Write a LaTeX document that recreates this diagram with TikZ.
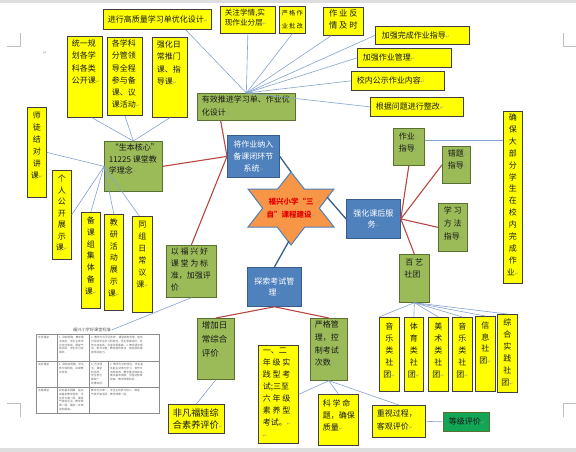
\documentclass[tikz,border=0pt]{standalone}
\usepackage{fontspec}
\setmainfont{Noto Sans CJK SC}
\newfontfamily\dejavu{DejaVu Sans}
\usetikzlibrary{calc}
\definecolor{ybox}{HTML}{FFFF00}
\definecolor{yline}{HTML}{3F3F3F}
\definecolor{gfill}{HTML}{9BBB59}
\definecolor{gline}{HTML}{5A7032}
\definecolor{bfill}{HTML}{4F81BD}
\definecolor{bline}{HTML}{385D8A}
\definecolor{ofill}{HTML}{F79646}
\definecolor{lblue}{HTML}{86A3CD}
\definecolor{redl}{HTML}{B84744}
\definecolor{dblue}{HTML}{3A5F8F}
\definecolor{dgreen}{HTML}{12A555}
\newcommand\crr{{\dejavu\fontsize{4.5}{4.5}\selectfont\color{black!40}↵}}
\newcommand\ftA{\fontsize{8}{12.5}\selectfont}
\newcommand\ftV{\fontsize{8}{12}\selectfont}
\newcommand\lsk{\leftskip=2pt\relax}
\newcommand\tb[8]{%
  \pgfmathsetmacro\tbw{#5-#3}%
  \pgfmathsetmacro\tbh{#6-#4}%
  \node[#2, anchor=north west, inner sep=0pt, minimum width=\tbw pt, minimum height=\tbh pt] (#1) at (#3,#4)
   {\begin{minipage}[c][\dimexpr\tbh pt-5pt\relax][#7]{\dimexpr\tbw pt-5pt\relax}#8\end{minipage}};%
}
\tikzset{
  yb/.style={draw=yline, fill=ybox, line width=0.7pt},
  gb/.style={draw=gline, fill=gfill, line width=0.7pt},
  bb/.style={draw=bline, fill=bfill, line width=0.8pt, text=white},
  dg/.style={draw=gline, fill=dgreen, line width=0.7pt},
  lk/.style={draw=lblue, line width=0.6pt},
  redc/.style={draw=redl, line width=1.1pt},
  blc/.style={draw=dblue, line width=1.3pt},
  tabtxt/.style={font=\fontsize{2.7}{3.8}\selectfont, text=black!60, anchor=north west, align=left, inner sep=1pt},
}
\begin{document}
\begin{tikzpicture}[x=1pt,y=-1pt, every node/.style={text=black!90}]
\useasboundingbox (0,0) rectangle (576,452);
\fill[white] (0,0) rectangle (576,452);
\fill[black!13] (0,0) rectangle (576,3);
\fill[black!13] (0,448) rectangle (576,452);
% corner marks
\draw[black!25, line width=0.5pt] (7,46) -- (20,46) -- (20,33);
\draw[black!25, line width=0.5pt] (576,46) -- (563,46) -- (563,33);
\draw[black!25, line width=0.5pt] (7,403) -- (20,403) -- (20,417);
\draw[black!25, line width=0.5pt] (576,403) -- (563,403) -- (563,417);
\node[inner sep=0pt] (pm1) at (45,53) {\crr};

% top boxes
\tb{t1}{yb}{103}{9}{211}{29}{c}{\ftA\lsk 进行高质量学习单优化设计\crr}
\tb{t2}{yb}{220}{6}{275}{33}{t}{\fontsize{7.6}{10.5}\selectfont\lsk 关注学情,实\\现作业分层\crr}
\tb{t3}{yb}{279}{6}{305}{33}{t}{\centering\fontsize{6.2}{12.5}\selectfont\vspace*{1.5pt}\mbox{严\hspace{1.2pt}格\hspace{1.2pt}作}\\\mbox{业\hspace{1.2pt}批\hspace{1.2pt}改}}
\tb{t4}{yb}{323}{7}{363}{35}{t}{\centering\fontsize{8.3}{12}\selectfont 作 业 反\\情 及 时}
\tb{t5}{yb}{375}{26}{469}{44}{c}{\ftA\leftskip=4pt 加强完成作业指导\crr}
\tb{t6}{yb}{357}{48}{451}{67}{c}{\ftA\leftskip=3pt 加强作业管理\crr}
\tb{t7}{yb}{351}{71}{444}{90}{c}{\ftA\leftskip=3pt 校内公示作业内容\crr}
\tb{t8}{yb}{370}{97}{463}{116}{c}{\ftA\leftskip=3pt 根据问题进行整改\crr}
\tb{g1}{gb}{197}{93}{295}{120}{t}{\fontsize{8}{13}\selectfont\lsk 有效推进学习单、作业优\\化设计\crr}

% left upper boxes
\tb{s1}{yb}{67}{36}{102}{117}{t}{\fontsize{8}{12.3}\selectfont\lsk\vspace*{1pt}统一规\\划各学\\科各类\\公开课\crr}
\tb{s2}{yb}{107}{37}{142}{115}{t}{\fontsize{8}{12.2}\selectfont\lsk 各学科\\分管领\\导全程\\参与备\\课、议\\课活动\crr}
\tb{s3}{yb}{152}{37}{187}{117}{t}{\fontsize{8}{12.3}\selectfont\lsk\vspace*{1pt}强化日\\常推门\\课、指\\导课\crr}
\tb{g2}{gb}{104}{141}{162}{191}{t}{\fontsize{8}{11.5}\selectfont\lsk\hspace*{2pt}“生本核心”\\11225 课堂教\\学理念\crr}

% left vertical boxes
\tb{v1}{yb}{27}{107}{46}{197}{t}{\centering\ftV\vspace*{2pt}师\\徒\\结\\对\\讲\\课\crr}
\tb{v2}{yb}{52}{170}{71}{259}{t}{\centering\fontsize{8}{11.5}\selectfont\vspace*{2pt}个\\人\\公\\开\\展\\示\\课\crr}
\tb{v3}{yb}{81}{212}{100}{308}{t}{\centering\fontsize{8}{11.8}\selectfont\vspace*{2pt}备\\课\\组\\集\\体\\备\\课\crr}
\tb{v4}{yb}{104}{214}{123}{310}{t}{\centering\fontsize{8}{11.8}\selectfont\vspace*{2pt}教\\研\\活\\动\\展\\示\\课\crr}
\tb{v5}{yb}{132}{216}{152}{312}{t}{\centering\ftV\vspace*{2pt}同\\组\\日\\常\\议\\课\crr}

\tb{g3}{gb}{166}{245}{216}{297}{t}{\fontsize{8}{12}\selectfont\lsk 以 福 兴 好\\课 堂 为 标\\准，加强评\\价\crr}

% blue boxes
\tb{b1}{bb}{227}{135}{279}{177}{t}{\centering\ftV\vspace*{2.5pt}将作业纳入\\备课闭环节\\系统\crr}
\tb{b2}{bb}{346}{199}{400}{238}{c}{\centering\fontsize{8}{11.5}\selectfont 强化课后服\\务\crr}
\tb{b3}{bb}{247}{267}{301}{306}{c}{\centering\fontsize{8}{11.5}\selectfont 探索考试管\\理\crr}

% star
\coordinate (stT) at (291,172);
\coordinate (stR) at (327,197);
\coordinate (stB) at (289,241);
\draw[fill=ofill, draw=bfill, line width=1pt] (291,172) -- (304.3,189) -- (334,189) -- (319.3,208.2) -- (334,227) -- (304.8,227) -- (291,245) -- (277.2,227) -- (248,227) -- (262.7,208.2) -- (248,189) -- (277.7,189) -- cycle;
\node[align=center, font=\fontsize{7.5}{13}\selectfont\bfseries, text=red!90!black, inner sep=0pt] (star) at (291,208.5) {福兴小学“三\\自”课程建设\crr};

% bottom boxes
\tb{g4}{gb}{197}{318}{234}{379}{t}{\fontsize{8.5}{14}\selectfont\lsk 增加日\\常综合\\评价\crr}
\tb{yd}{yb}{168}{404}{224}{433}{t}{\fontsize{9.2}{12}\selectfont\vspace*{1.5pt}\lsk 非凡福娃综\\合素养评价\crr}
\tb{g5}{gb}{310}{318}{347}{380}{t}{\fontsize{8}{12.7}\selectfont\lsk 严格管\\理，控\\制考试\\次数\crr}
\tb{ya}{yb}{258}{345}{298}{443}{t}{\fontsize{8}{12}\selectfont\lsk 一、二\\年 级 实\\践 型 考\\试;三至\\六 年 级\\素 养 型\\考试。\crr\\\crr}
\tb{yb}{yb}{318}{394}{358}{445}{t}{\fontsize{8}{12}\selectfont\vspace*{2.5pt}\lsk 科 学 命\\题，确保\\质量\crr}
\tb{yc}{yb}{372}{405}{425}{437}{t}{\fontsize{8}{13}\selectfont\vspace*{2pt}\lsk 重视过程，\\客观评价\crr}
\tb{dgb}{dg}{443}{412}{489}{431}{c}{\ftA\leftskip=3pt 等级评价\crr}

% right side
\tb{g6}{gb}{393}{128}{424}{165}{t}{\ftV\vspace*{2pt}\leftskip=3pt 作业\crr\\指导\crr}
\tb{g7}{gb}{442}{146}{470}{183}{t}{\ftV\vspace*{1pt}\leftskip=3pt 错题\crr\\指导\crr}
\tb{g8}{gb}{438}{203}{467}{251}{t}{\fontsize{8}{12.8}\selectfont\vspace*{1pt}\leftskip=3pt 学 习\\方 法\\指导\crr}
\tb{g9}{gb}{399}{254}{429}{302}{t}{\centering\ftV\vspace*{2pt}百 艺\\社团\crr}
\tb{tall}{yb}{503}{111}{522}{283}{t}{\centering\fontsize{8}{11.9}\selectfont 确\\保\\大\\部\\分\\学\\生\\在\\校\\内\\完\\成\\作\\业\crr}

\tb{c1}{yb}{379}{317}{399}{391}{t}{\centering\ftV\vspace*{3pt}音\\乐\\类\\社\\团\crr}
\tb{c2}{yb}{404}{317}{423}{391}{t}{\centering\ftV\vspace*{3pt}体\\育\\类\\社\\团\crr}
\tb{c3}{yb}{428}{317}{448}{391}{t}{\centering\ftV\vspace*{3pt}美\\术\\类\\社\\团\crr}
\tb{c4}{yb}{452}{317}{472}{391}{t}{\centering\ftV\vspace*{3pt}音\\乐\\类\\社\\团\crr}
\tb{c5}{yb}{475}{316}{495}{391}{t}{\centering\fontsize{8}{11.5}\selectfont\vspace*{3pt}信\\息\\社\\团\crr}
\tb{c6}{yb}{497}{314}{517}{392}{t}{\centering\ftV\vspace*{2pt}综\\合\\实\\践\\社\\团\crr}

% table
\node[font=\fontsize{4.2}{5}\selectfont, text=black!65, inner sep=0.5pt] (tabT) at (92,330) {福兴小学好课堂标准};
\draw[black!45, line width=0.4pt] (36,334) rectangle (159,413);
\draw[black!45, line width=0.4pt] (36,361) -- (159,361) (36,387) -- (159,387) (57,334) -- (57,413) (89,334) -- (89,413) (108,361) -- (108,387);
\node[tabtxt] (r1a) at (37,335) {优秀课堂};
\node[tabtxt] (r1b) at (58,335) {1. 目标明确，教学重\\点突出，学生主体地\\位充分体现，课堂气\\氛活跃，学生学习效\\果好。};
\node[tabtxt] (r1c) at (90,335) {2. 教学方法灵活多样，课堂结构合理，能充\\分调动学生学习积极性，学生思维活跃，合\\作交流有效，当堂达标率高。3. 教师语言规\\范，板书工整，教态自然亲切，有较强的课\\堂驾驭能力。};
\node[tabtxt] (r2a) at (37,362) {良好课堂};
\node[tabtxt] (r2b) at (58,362) {1. 目标较明确，学生\\参与较积极，完成教\\学任务。};
\node[tabtxt] (r2c) at (90,362) {3. 方法得\\当，课堂\\较活跃，\\学生参与\\面较广，\\效果较好。};
\node[tabtxt] (r2d) at (109,362) {2. 教学方法较恰当，学生基\\本能主动参与学习，合作交\\流较有效，教学重点较突出，\\难点基本突破，当堂达标率\\较高，教学效果较好。};
\node[tabtxt] (r3a) at (37,388) {合格课堂};
\node[tabtxt] (r3b) at (58,388) {目标基本明确，能完\\成基本教学任务，学\\生参与面一般，课堂\\气氛较平淡，教学效\\果一般，需进一步改\\进和提高。};
\node[tabtxt] (r3c) at (90,388) {教学方法单一，学生主动参与较少，课堂\\气氛不够活跃，教学效果一般。};

% connectors
\coordinate (hubA) at (g1.north);
\draw[lk] (hubA) -- ($(t1.south west)!.76!(t1.south east)$);
\draw[lk] (hubA) -- (t2.south);
\draw[lk] (hubA) -- (t3.south);
\draw[lk] (hubA) -- ($(t4.south west)!.2!(t4.south east)$);
\draw[lk] (hubA) -- (t5.west);
\draw[lk] (hubA) -- (t6.west);
\draw[lk] (hubA) -- (t7.west);
\draw[lk] (hubA) -- (t8.west);
\draw[lk] (g2.north) -- ($(s1.south west)!.7!(s1.south east)$);
\draw[lk] (g2.north) -- (s2.south);
\draw[lk] (g2.north) -- (s3.south);
\draw[lk] (g2.west) -- (v1.east);
\draw[lk] (g2.west) -- (v2.east);
\draw[lk] (g2.west) -- (v3.north);
\draw[lk] (g2.west) -- (v4.north);
\draw[lk] (g2.west) -- ($(v5.north west)!.35!(v5.north east)$);
\draw[redc] (b1.west) -- ($(g1.south west)!.24!(g1.south east)$);
\draw[redc] (b1.west) -- (g2.east);
\draw[redc] (b1.west) -- (g3.north);
\draw[blc] (b1.east) -- (stT);
\draw[blc] (stR) -- (b2.west);
\draw[blc] (stB) -- (b3.north);
\draw[redc] (b3.south) -- (g4.north);
\draw[redc] (b3.south) -- (g5.north);
\draw[lk] (g4.south) -- (yd.north);
\draw[lk] (g5.south) -- (ya.east);
\draw[lk] (g5.south) -- (yb.north);
\draw[lk] (g5.south) -- (yc.north);
\draw[lk] (yc.east) -- (dgb.west);
\draw[redc] (b2.east) -- (g6.south);
\draw[redc] (b2.east) -- (g7.west);
\draw[redc] (b2.east) -- (g8.west);
\draw[redc] (b2.east) -- (g9.north);
\coordinate (y140) at (0,140);
\draw[lk] (g6.east |- y140) -- (tall.west |- y140);
\draw[lk] (g9.south) -- (c1.north west);
\draw[lk] (g9.south) -- (c2.north);
\draw[lk] (g9.south) -- (c3.north);
\draw[lk] (g9.south) -- (c4.north);
\draw[lk] (g9.south) -- (c5.north);
\draw[lk] (g9.south) -- (c6.north);
\draw[lk] (g3.south) -- (tabT.east);
\end{tikzpicture}
\end{document}
